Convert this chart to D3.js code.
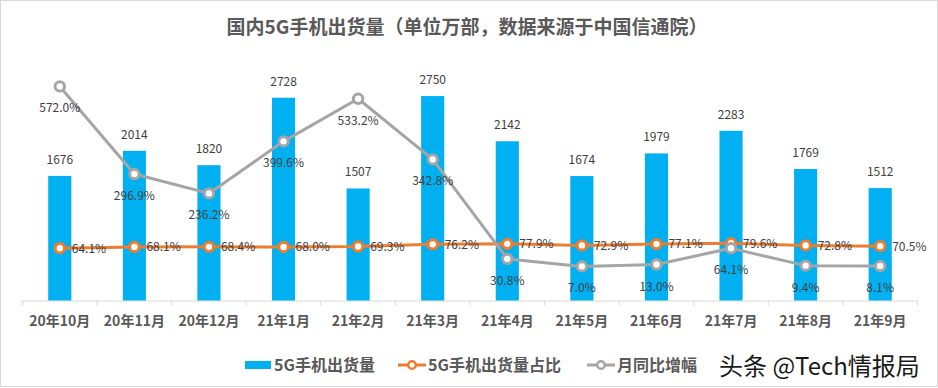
<!DOCTYPE html>
<html>
<head>
<meta charset="utf-8">
<script src="https://cdnjs.cloudflare.com/ajax/libs/d3/7.8.5/d3.min.js"></script>
<style>
  body { margin: 0; background: #fff; }
  svg { display: block; font-family: "Noto Sans CJK SC", "Noto Sans", sans-serif; }
</style>
</head>
<body>
<svg id="chart" width="938" height="388"></svg>
<script>
var months = ["20年10月", "20年11月", "20年12月", "21年1月", "21年2月", "21年3月", "21年4月", "21年5月", "21年6月", "21年7月", "21年8月", "21年9月"];
var shipments = [1676, 2014, 1820, 2728, 1507, 2750, 2142, 1674, 1979, 2283, 1769, 1512];
var share = [64.1, 68.1, 68.4, 68.0, 69.3, 76.2, 77.9, 72.9, 77.1, 79.6, 72.8, 70.5];
var growth = [572.0, 296.9, 236.2, 399.6, 533.2, 342.8, 30.8, 7.0, 13.0, 64.1, 9.4, 8.1];
var legendKeys = ["5G手机出货量", "5G手机出货量占比", "月同比增幅"];

var svg = d3.select("#chart"),
    plotLeft = 22.5, plotRight = 917.5, plotBottom = 300.5, plotTop = 77.5;

var blue = "#00B0F0", orange = "#ED7D31", gray = "#A5A5A5";

// frame
svg.append("rect")
    .attr("x", 0.5).attr("y", 0.5)
    .attr("width", 937).attr("height", 386)
    .attr("fill", "none")
    .attr("stroke", "#d9d9d9");

svg.append("text")
    .attr("x", 467).attr("y", 34)
    .attr("text-anchor", "middle")
    .attr("font-size", 19)
    .attr("font-weight", "bold")
    .attr("fill", "#595959")
    .text("国内5G手机出货量（单位万部，数据来源于中国信通院）");

var x = d3.scaleBand().domain(months).range([plotLeft, plotRight]).paddingInner(0.69).paddingOuter(0.345),
    xb = d3.scaleBand().domain(months).range([plotLeft, plotRight]),
    y = d3.scaleLinear().domain([0, 3000]).range([plotBottom, plotTop]),
    y2 = d3.scaleLinear().domain([-100, 600]).range([plotBottom, plotTop]);

function cx(d, i) { return xb(months[i]) + xb.bandwidth() / 2; }

// x axis
var axis = svg.append("g")
    .attr("transform", "translate(0," + plotBottom + ")")
    .call(d3.axisBottom(xb).tickSize(0).tickPadding(16));
axis.select(".domain").attr("stroke", "#d9d9d9");
axis.selectAll("text")
    .attr("font-size", 14)
    .attr("font-weight", "bold")
    .attr("fill", "#595959")
    .attr("font-family", "Noto Sans CJK SC");
axis.selectAll(".sep")
    .data(d3.range(months.length + 1))
    .enter().append("line")
    .attr("x1", function(i) { return plotLeft + i * xb.step(); })
    .attr("x2", function(i) { return plotLeft + i * xb.step(); })
    .attr("y1", 0).attr("y2", 5)
    .attr("stroke", "#d9d9d9");

// bars
svg.append("g").selectAll("rect")
    .data(shipments)
    .enter().append("rect")
    .attr("x", function(d, i) { return x(months[i]); })
    .attr("y", function(d) { return y(d); })
    .attr("width", x.bandwidth())
    .attr("height", function(d) { return plotBottom - y(d); })
    .attr("fill", blue);

svg.append("g").selectAll("text")
    .data(shipments)
    .enter().append("text")
    .attr("x", cx)
    .attr("y", function(d) { return y(d) - 12; })
    .attr("text-anchor", "middle")
    .attr("font-size", 12)
    .attr("fill", "#404040")
    .text(function(d) { return d; });

// lines
function drawLine(values, color) {
  var line = d3.line()
      .x(function(d, i) { return cx(d, i); })
      .y(function(d) { return y2(d); });
  var g = svg.append("g");
  g.append("path")
      .attr("d", line(values))
      .attr("fill", "none")
      .attr("stroke", color)
      .attr("stroke-width", 3)
      .attr("stroke-linejoin", "round");
  g.selectAll("circle")
      .data(values)
      .enter().append("circle")
      .attr("cx", cx)
      .attr("cy", function(d) { return y2(d); })
      .attr("r", 4.7)
      .attr("fill", "#fff")
      .attr("stroke", color)
      .attr("stroke-width", 3);
}
drawLine(share, orange);
drawLine(growth, gray);

svg.append("g").selectAll("text")
    .data(share)
    .enter().append("text")
    .attr("x", function(d, i) { return cx(d, i) + 12; })
    .attr("y", function(d) { return y2(d); })
    .attr("dy", "0.36em")
    .attr("font-size", 12)
    .attr("fill", "#404040")
    .text(function(d) { return d.toFixed(1) + "%"; });

svg.append("g").selectAll("text")
    .data(growth)
    .enter().append("text")
    .attr("x", cx)
    .attr("y", function(d) { return y2(d) + 26; })
    .attr("text-anchor", "middle")
    .attr("font-size", 12)
    .attr("fill", "#404040")
    .text(function(d) { return d.toFixed(1) + "%"; });

// legend
var lg = svg.append("g").attr("font-size", 16).attr("font-weight", "bold").attr("fill", "#595959");
lg.append("rect").attr("x", 245).attr("y", 361).attr("width", 26).attr("height", 8).attr("fill", blue);
lg.append("text").attr("x", 274).attr("y", 365).attr("dy", "0.36em").text(legendKeys[0]);

[[398, orange, legendKeys[1]], [587, gray, legendKeys[2]]].forEach(function(k) {
  lg.append("line").attr("x1", k[0]).attr("x2", k[0] + 28).attr("y1", 365).attr("y2", 365)
      .attr("stroke", k[1]).attr("stroke-width", 3);
  lg.append("circle").attr("cx", k[0] + 14).attr("cy", 365).attr("r", 3.8)
      .attr("fill", "#fff").attr("stroke", k[1]).attr("stroke-width", 2.5);
  lg.append("text").attr("x", k[0] + 30).attr("y", 365).attr("dy", "0.36em").text(k[2]);
});

svg.append("text")
    .attr("x", 719).attr("y", 366)
    .attr("dy", "0.36em")
    .attr("font-size", 24)
    .attr("fill", "#1a1a1a")
    .text("头条 @Tech情报局");
</script>
</body>
</html>
